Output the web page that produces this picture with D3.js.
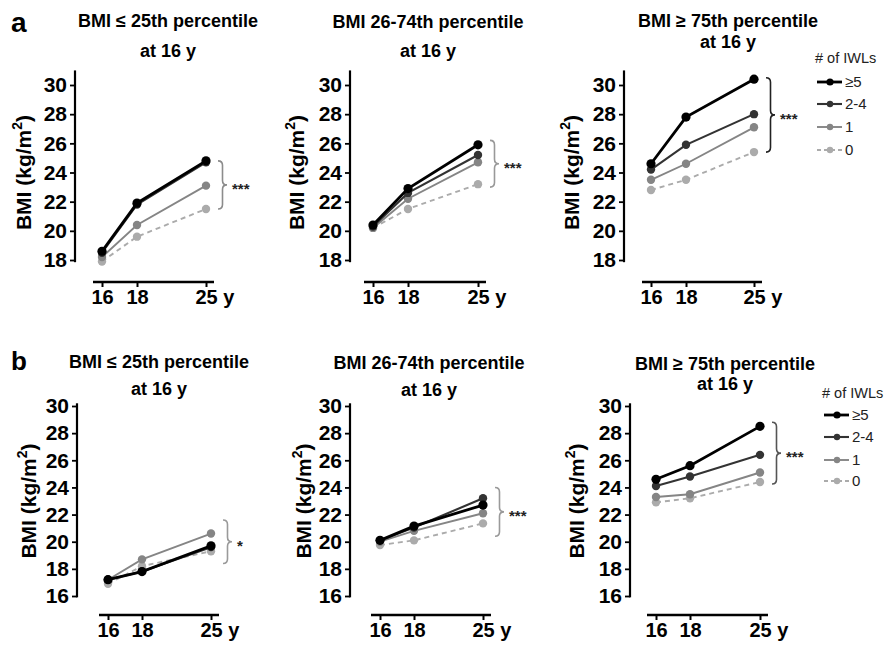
<!DOCTYPE html>
<html>
<head>
<meta charset="utf-8">
<script src="https://cdn.jsdelivr.net/npm/d3@7"></script>
<style>
  body { margin: 0; background: #fff; }
  svg text { font-family: "Liberation Sans", Arial, sans-serif; }
</style>
</head>
<body>
<div id="chart"></div>
<script>
const years = [16, 18, 25];
const yearLabels = ['16', '18', '25 y'];
const groups = ['≥5', '2-4', '1', '0'];
const ticksA = [18, 20, 22, 24, 26, 28, 30];
const ticksB = [16, 18, 20, 22, 24, 26, 28, 30];
const titles = ['BMI ≤ 25th percentile', 'BMI 26-74th percentile', 'BMI ≥ 75th percentile'];
const subtitle = 'at 16 y';

// BMI (kg/m2) per group [≥5, 2-4, 1, 0] at 16, 18, 25 y
const aLow = [[18.6, 21.9, 24.8], [18.5, 21.8, 24.7], [18.2, 20.4, 23.1], [17.9, 19.6, 21.5]];
const aMid = [[20.4, 22.9, 25.9], [20.3, 22.6, 25.2], [20.2, 22.2, 24.7], [20.2, 21.5, 23.2]];
const aHigh = [[24.6, 27.8, 30.4], [24.2, 25.9, 28.0], [23.5, 24.6, 27.1], [22.8, 23.5, 25.4]];
const bLow = [[17.2, 17.8, 19.7], [17.2, 17.8, 19.6], [17.2, 18.7, 20.6], [16.9, 18.2, 19.3]];
const bMid = [[20.1, 21.15, 22.7], [20.1, 21.05, 23.2], [20.0, 20.8, 22.1], [19.75, 20.1, 21.35]];
const bHigh = [[24.6, 25.6, 28.5], [24.1, 24.8, 26.4], [23.3, 23.5, 25.1], [22.9, 23.2, 24.4]];

// significance brackets: [low, high] in BMI units, and label
const braceA = [[21.5, 24.8], [23.0, 26.2], [25.4, 30.5]];
const braceB = [[18.4, 21.6], [20.4, 24.0], [24.25, 28.8]];
const starsA = ['***', '***', '***'];
const starsB = ['*', '***', '***'];

const styles = [
  {color: '#000', width: 2.8, r: 4.6, dash: null},
  {color: '#333', width: 2.1, r: 4.2, dash: null},
  {color: '#858585', width: 1.9, r: 4.2, dash: null},
  {color: '#ababab', width: 1.9, r: 4.2, dash: '5,4'}
];

const W = 886, H = 647;
const svg = d3.select('#chart').append('svg')
  .attr('width', W).attr('height', H);

const rows = [
  {letter: 'a', letterY: 32, letterSize: 28, ticks: ticksA, yDom: [18, 30], yRange: [260, 85],
   axisTop: 31, axisBot: 17.85, xLineY: 282, data: [aLow, aMid, aHigh], braces: braceA, stars: starsA,
   panels: [
     {axisX: 75, xs: [102, 137, 206], tx: 168, t1: 27, t2: 57, labelX: 24, braceCol: '#8c8c8c'},
     {axisX: 350, xs: [373, 408, 478], tx: 428, t1: 28, t2: 57, labelX: 297, braceCol: '#999'},
     {axisX: 624, xs: [651, 686, 754], tx: 728, t1: 27, t2: 48, labelX: 572, braceCol: '#222'}
   ],
   legend: {x: 815, titleY: 63, ys: [82, 104, 127, 150]}},
  {letter: 'b', letterY: 370, letterSize: 26, ticks: ticksB, yDom: [16, 30], yRange: [596, 406],
   axisTop: 30.2, axisBot: 15.9, xLineY: 615, data: [bLow, bMid, bHigh], braces: braceB, stars: starsB,
   panels: [
     {axisX: 77, xs: [108, 142, 211], tx: 159, t1: 368, t2: 395, labelX: 29, braceCol: '#9a9a9a'},
     {axisX: 350, xs: [380, 414, 483], tx: 429, t1: 369, t2: 396, labelX: 304, braceCol: '#9a9a9a'},
     {axisX: 630, xs: [656, 690, 760], tx: 725, t1: 370, t2: 390, labelX: 577, braceCol: '#555'}
   ],
   legend: {x: 822, titleY: 398, ys: [415, 437, 460, 481]}}
];

function brace(x, y1, y2, w) {
  const p = d3.path();
  const m = (y1 + y2) / 2, r = w / 2;
  p.moveTo(x, y1);
  p.quadraticCurveTo(x + r, y1, x + r, y1 + r);
  p.lineTo(x + r, m - r);
  p.quadraticCurveTo(x + r, m, x + w, m);
  p.quadraticCurveTo(x + r, m, x + r, m + r);
  p.lineTo(x + r, y2 - r);
  p.quadraticCurveTo(x + r, y2, x, y2);
  return p.toString();
}

rows.forEach(row => {
  svg.append('text')
    .attr('x', 11).attr('y', row.letterY)
    .attr('font-size', row.letterSize).attr('font-weight', 'bold')
    .text(row.letter);

  row.panels.forEach((pn, i) => {
    const values = row.data[i];
    const y = d3.scaleLinear().domain(row.yDom).range(row.yRange);
    const x = d3.scaleLinear().domain(years).range(pn.xs);
    const g = svg.append('g');

    // titles
    g.append('text')
      .attr('x', pn.tx).attr('y', pn.t1)
      .attr('text-anchor', 'middle')
      .attr('font-size', 18).attr('font-weight', 'bold')
      .text(titles[i]);
    g.append('text')
      .attr('x', pn.tx).attr('y', pn.t2)
      .attr('text-anchor', 'middle')
      .attr('font-size', 18).attr('font-weight', 'bold')
      .text(subtitle);

    // y axis
    const yAxis = d3.axisLeft(y).tickValues(row.ticks).tickSize(5).tickPadding(3);
    const ya = g.append('g')
      .attr('transform', `translate(${pn.axisX},0)`)
      .call(yAxis);
    ya.select('.domain').remove();
    ya.selectAll('.tick line').attr('stroke', '#000').attr('stroke-width', 1.8);
    ya.selectAll('.tick text')
      .attr('font-size', 21).attr('font-weight', 'bold')
      .attr('font-family', '"Liberation Sans", Arial, sans-serif')
      .attr('fill', '#000');
    ya.append('line')
      .attr('y1', y(row.axisTop)).attr('y2', y(row.axisBot))
      .attr('stroke', '#000').attr('stroke-width', 2.2);

    // y axis label
    const lab = g.append('text')
      .attr('transform', `translate(${pn.labelX},${(row.yRange[0] + row.yRange[1]) / 2}) rotate(-90)`)
      .attr('text-anchor', 'middle')
      .attr('dy', '0.35em')
      .attr('font-size', 21).attr('font-weight', 'bold');
    lab.append('tspan').text('BMI (kg/m');
    lab.append('tspan').attr('font-size', 14).attr('dy', -9).text('2');
    lab.append('tspan').attr('dy', 9).text(')');

    // x axis
    const xAxis = d3.axisBottom(x).tickValues(years).tickSize(5).tickPadding(3)
      .tickFormat((d, k) => yearLabels[k]);
    const xa = g.append('g')
      .attr('transform', `translate(0,${row.xLineY})`)
      .call(xAxis);
    xa.select('.domain').remove();
    xa.selectAll('.tick line').attr('stroke', '#000').attr('stroke-width', 2);
    xa.selectAll('.tick text')
      .attr('font-size', 20).attr('font-weight', 'bold')
      .attr('font-family', '"Liberation Sans", Arial, sans-serif')
      .attr('fill', '#000')
      .filter((d, k) => k === years.length - 1)
      .attr('text-anchor', 'start').attr('x', -11);
    xa.append('line')
      .attr('x1', x(years[0]) - 9).attr('x2', x(years[years.length - 1]) + 8)
      .attr('stroke', '#000').attr('stroke-width', 2.4);

    // series, drawn back to front
    const line = d3.line().x((d, k) => x(years[k])).y(d => y(d));
    const order = [3, 2, 1, 0];
    order.forEach(s => {
      const st = styles[s];
      g.append('path')
        .attr('d', line(values[s]))
        .attr('fill', 'none')
        .attr('stroke', st.color)
        .attr('stroke-width', st.width)
        .attr('stroke-dasharray', st.dash);
      g.selectAll(null)
        .data(values[s])
        .enter().append('circle')
        .attr('cx', (d, k) => x(years[k]))
        .attr('cy', d => y(d))
        .attr('r', st.r)
        .attr('fill', st.color);
    });

    // bracket + stars
    const br = row.braces[i];
    const bx = x(years[2]) + 12;
    g.append('path')
      .attr('d', brace(bx, y(br[1]), y(br[0]), 9))
      .attr('fill', 'none')
      .attr('stroke', pn.braceCol)
      .attr('stroke-width', 1.6);
    g.append('text')
      .attr('x', bx + 14)
      .attr('y', (y(br[0]) + y(br[1])) / 2 + 9)
      .attr('font-size', 15).attr('font-weight', 'bold')
      .attr('fill', '#222')
      .text(row.stars[i]);
  });

  // legend
  const lg = svg.append('g');
  const L = row.legend;
  lg.append('text')
    .attr('x', L.x).attr('y', L.titleY)
    .attr('font-size', 14.5).attr('fill', '#222')
    .text('# of IWLs');
  groups.forEach((name, s) => {
    const st = styles[s];
    lg.append('line')
      .attr('x1', L.x + 2).attr('x2', L.x + 27)
      .attr('y1', L.ys[s]).attr('y2', L.ys[s])
      .attr('stroke', st.color).attr('stroke-width', st.width)
      .attr('stroke-dasharray', st.dash ? '4,3' : null);
    lg.append('circle')
      .attr('cx', L.x + 15).attr('cy', L.ys[s])
      .attr('r', st.r - 1).attr('fill', st.color);
    lg.append('text')
      .attr('x', L.x + 30).attr('y', L.ys[s] + 5)
      .attr('font-size', 15).attr('fill', '#222')
      .text(name);
  });
});
</script>
</body>
</html>
